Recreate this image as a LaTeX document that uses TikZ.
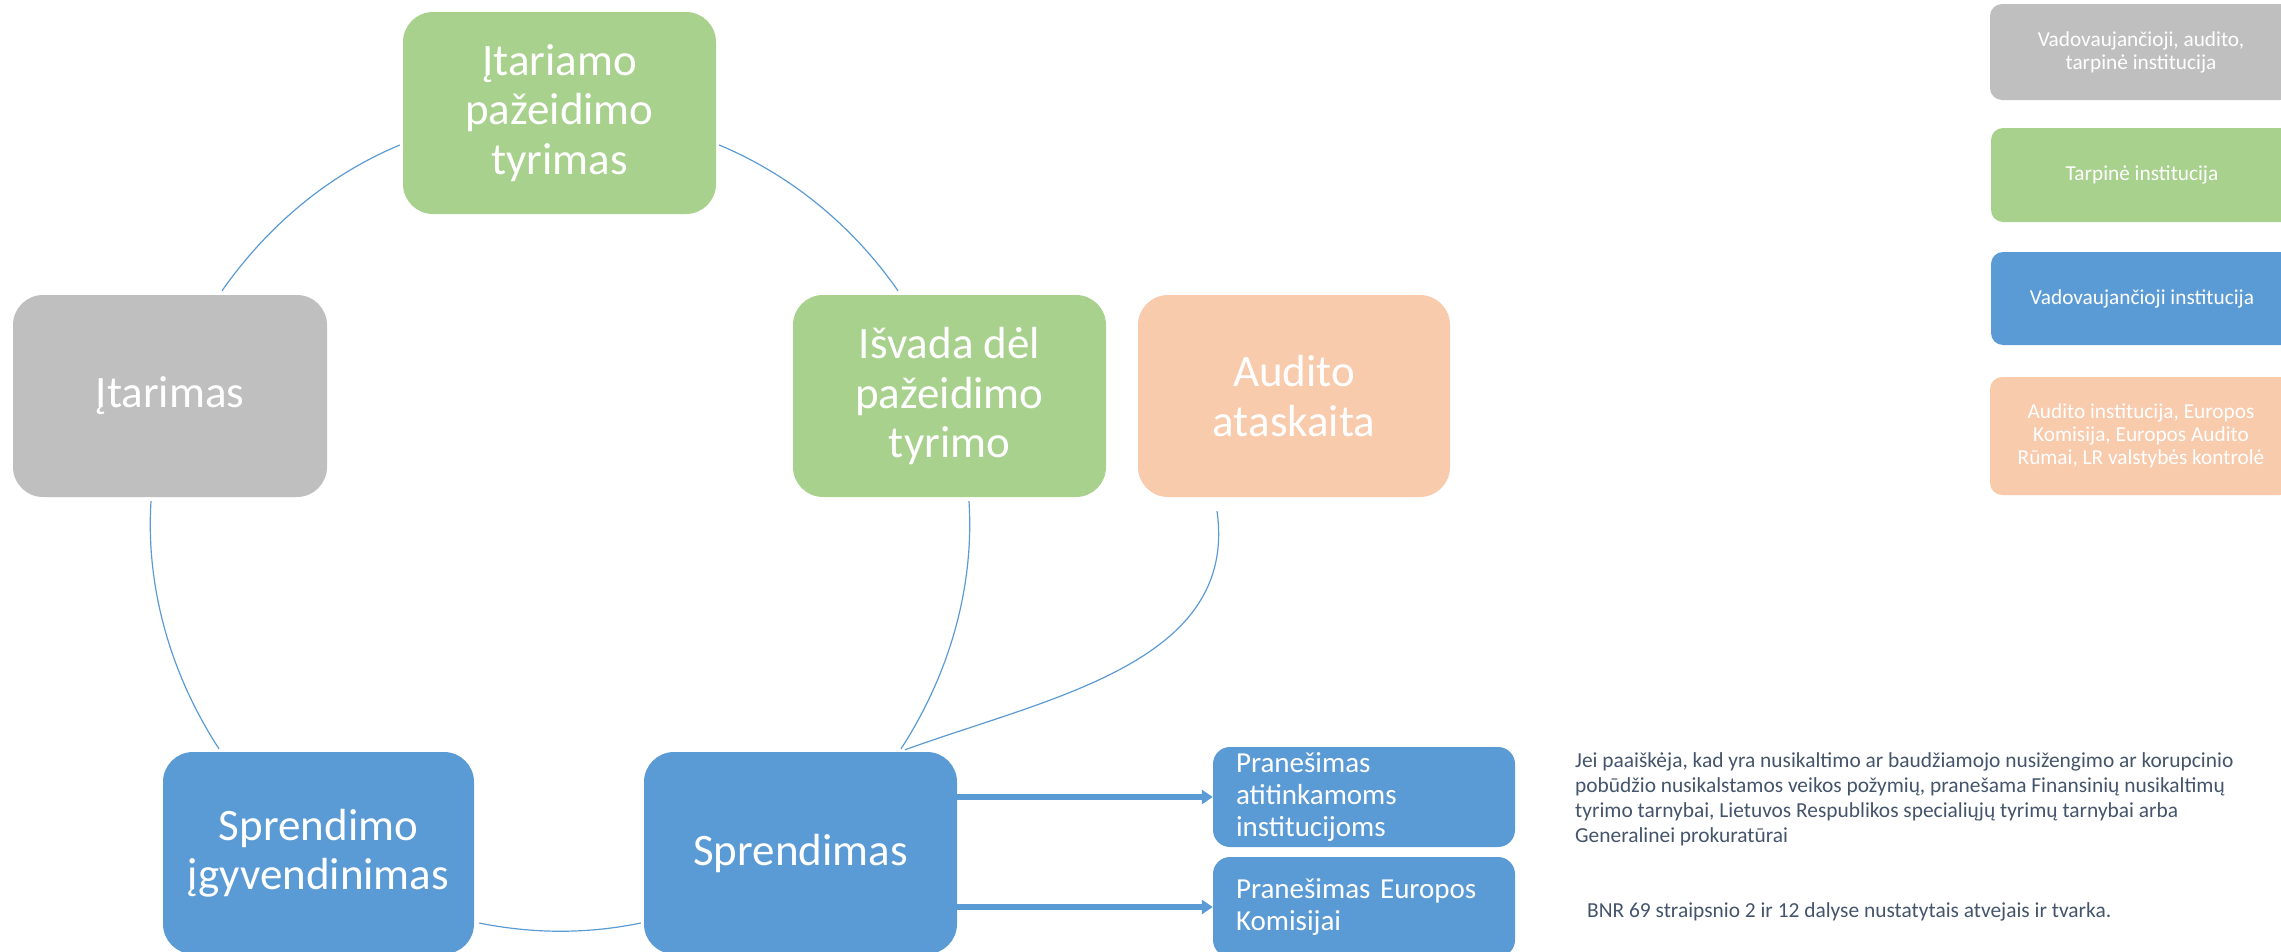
\documentclass[tikz,border=0pt]{standalone}
\usepackage{fontspec}
\setmainfont{Carlito}
\usetikzlibrary{calc,arrows.meta}
\definecolor{cgray}{HTML}{BFBFBF}
\definecolor{cgreen}{HTML}{A9D18E}
\definecolor{cblue}{HTML}{5B9BD5}
\definecolor{cpeach}{HTML}{F8CBAD}
\definecolor{cnote}{HTML}{44546A}
\tikzset{
  bigbox/.style={rectangle, rounded corners=30pt, minimum width=313pt, minimum height=202pt,
    align=center, text=white, inner sep=0pt, font={\fontsize{45}{49.5}\selectfont}},
  smallbox/.style={rectangle, rounded corners=17pt, fill=cblue, minimum width=302pt, minimum height=100pt,
    text width=256pt, inner xsep=23pt, inner ysep=0pt, align=left, text=white, font={\fontsize{29}{31.7}\selectfont}},
  legbox/.style={rectangle, rounded corners=12pt, minimum width=302pt, align=center, text=white,
    inner sep=0pt, font={\fontsize{21.3}{23}\selectfont}},
  conn/.style={draw=cblue, line width=1.2pt, looseness=0.87},
  arr/.style={draw=cblue, line width=6pt, -{Triangle[length=11pt,width=14pt]}},
  notetext/.style={text=cnote, align=left, inner sep=0pt, font={\fontsize{21.4}{25}\selectfont}}
}
\begin{document}
\begin{tikzpicture}[x=1pt,y=1pt]
\useasboundingbox (0,0) rectangle (2281,-951);
\clip (0,0) rectangle (2281,-951);
% main cycle
\node[bigbox, fill=cgreen] (itariamo) at (559.5,-113) {Įtariamo\\pažeidimo\\tyrimas};
\node[bigbox, fill=cgray, minimum width=314pt] (itarimas) at (170,-396) {Įtarimas};
\node[bigbox, fill=cgreen] (isvada) at (949.5,-396) {Išvada dėl\\pažeidimo\\tyrimo};
\node[bigbox, fill=cpeach, minimum width=312pt] (audito) at (1294,-396) {Audito\\ataskaita};
\node[bigbox, fill=cblue, minimum width=311pt] (sprendimo) at (318.5,-853) {Sprendimo\\įgyvendinimas};
\node[bigbox, fill=cblue] (sprendimas) at (800.5,-853) {Sprendimas};
% notification boxes
\node[smallbox] (pran1) at (1364,-797) {Pranešimas\\atitinkamoms\\institucijoms};
\node[smallbox] (pran2) at (1364,-907) {Pranešimas Europos\\Komisijai};
% notes
\node[notetext, anchor=west] (note1) at (1575,-799.5) {Jei paaiškėja, kad yra nusikaltimo ar baudžiamojo nusižengimo ar korupcinio\\pobūdžio nusikalstamos veikos požymių, pranešama Finansinių nusikaltimų\\tyrimo tarnybai, Lietuvos Respublikos specialiųjų tyrimų tarnybai arba\\Generalinei prokuratūrai};
\node[notetext, anchor=west] (note2) at (1587,-912) {BNR 69 straipsnio 2 ir 12 dalyse nustatytais atvejais ir tvarka.};
% legend
\node[legbox, fill=cgray, minimum height=96pt] (leg1) at (2141,-52) {Vadovaujančioji, audito,\\tarpinė institucija};
\node[legbox, fill=cgreen, minimum height=94pt] (leg2) at (2142,-175) {Tarpinė institucija};
\node[legbox, fill=cblue, minimum height=93pt] (leg3) at (2142,-298.5) {Vadovaujančioji institucija};
\node[legbox, fill=cpeach, minimum height=118pt] (leg4) at (2141,-436) {Audito institucija, Europos\\Komisija, Europos Audito\\Rūmai, LR valstybės kontrolė};
% connectors
\draw[conn] ($(itarimas.north)+(52,4)$) to[out=55,in=202.6] ($(itariamo.west)+(-3,-32)$);
\draw[conn] ($(itariamo.east)+(3,-32)$) to[out=-22.7,in=124.8] ($(isvada.north)+(-51.5,4)$);
\draw[conn] ($(isvada.south)+(19.5,-4)$) to[out=-86.4,in=57] ($(sprendimas.north)+(100.5,3)$);
\draw[conn] ($(sprendimas.west)+(-3,-70)$) to[out=-168.3,in=-11.4] ($(sprendimo.east)+(5,-70)$);
\draw[conn] ($(sprendimo.north)+(-99.5,3)$) to[out=123.1,in=266.4] ($(itarimas.south)+(-19,-4)$);
\draw[conn, looseness=1] ($(audito.south)+(-77,-14)$) to[out=-82,in=20] ($(sprendimas.north)+(104.5,2)$);
% arrows
\draw[arr] (sprendimas.east |- pran1.west) -- (pran1.west);
\draw[arr] (sprendimas.east |- pran2.west) -- (pran2.west);
\end{tikzpicture}
\end{document}
